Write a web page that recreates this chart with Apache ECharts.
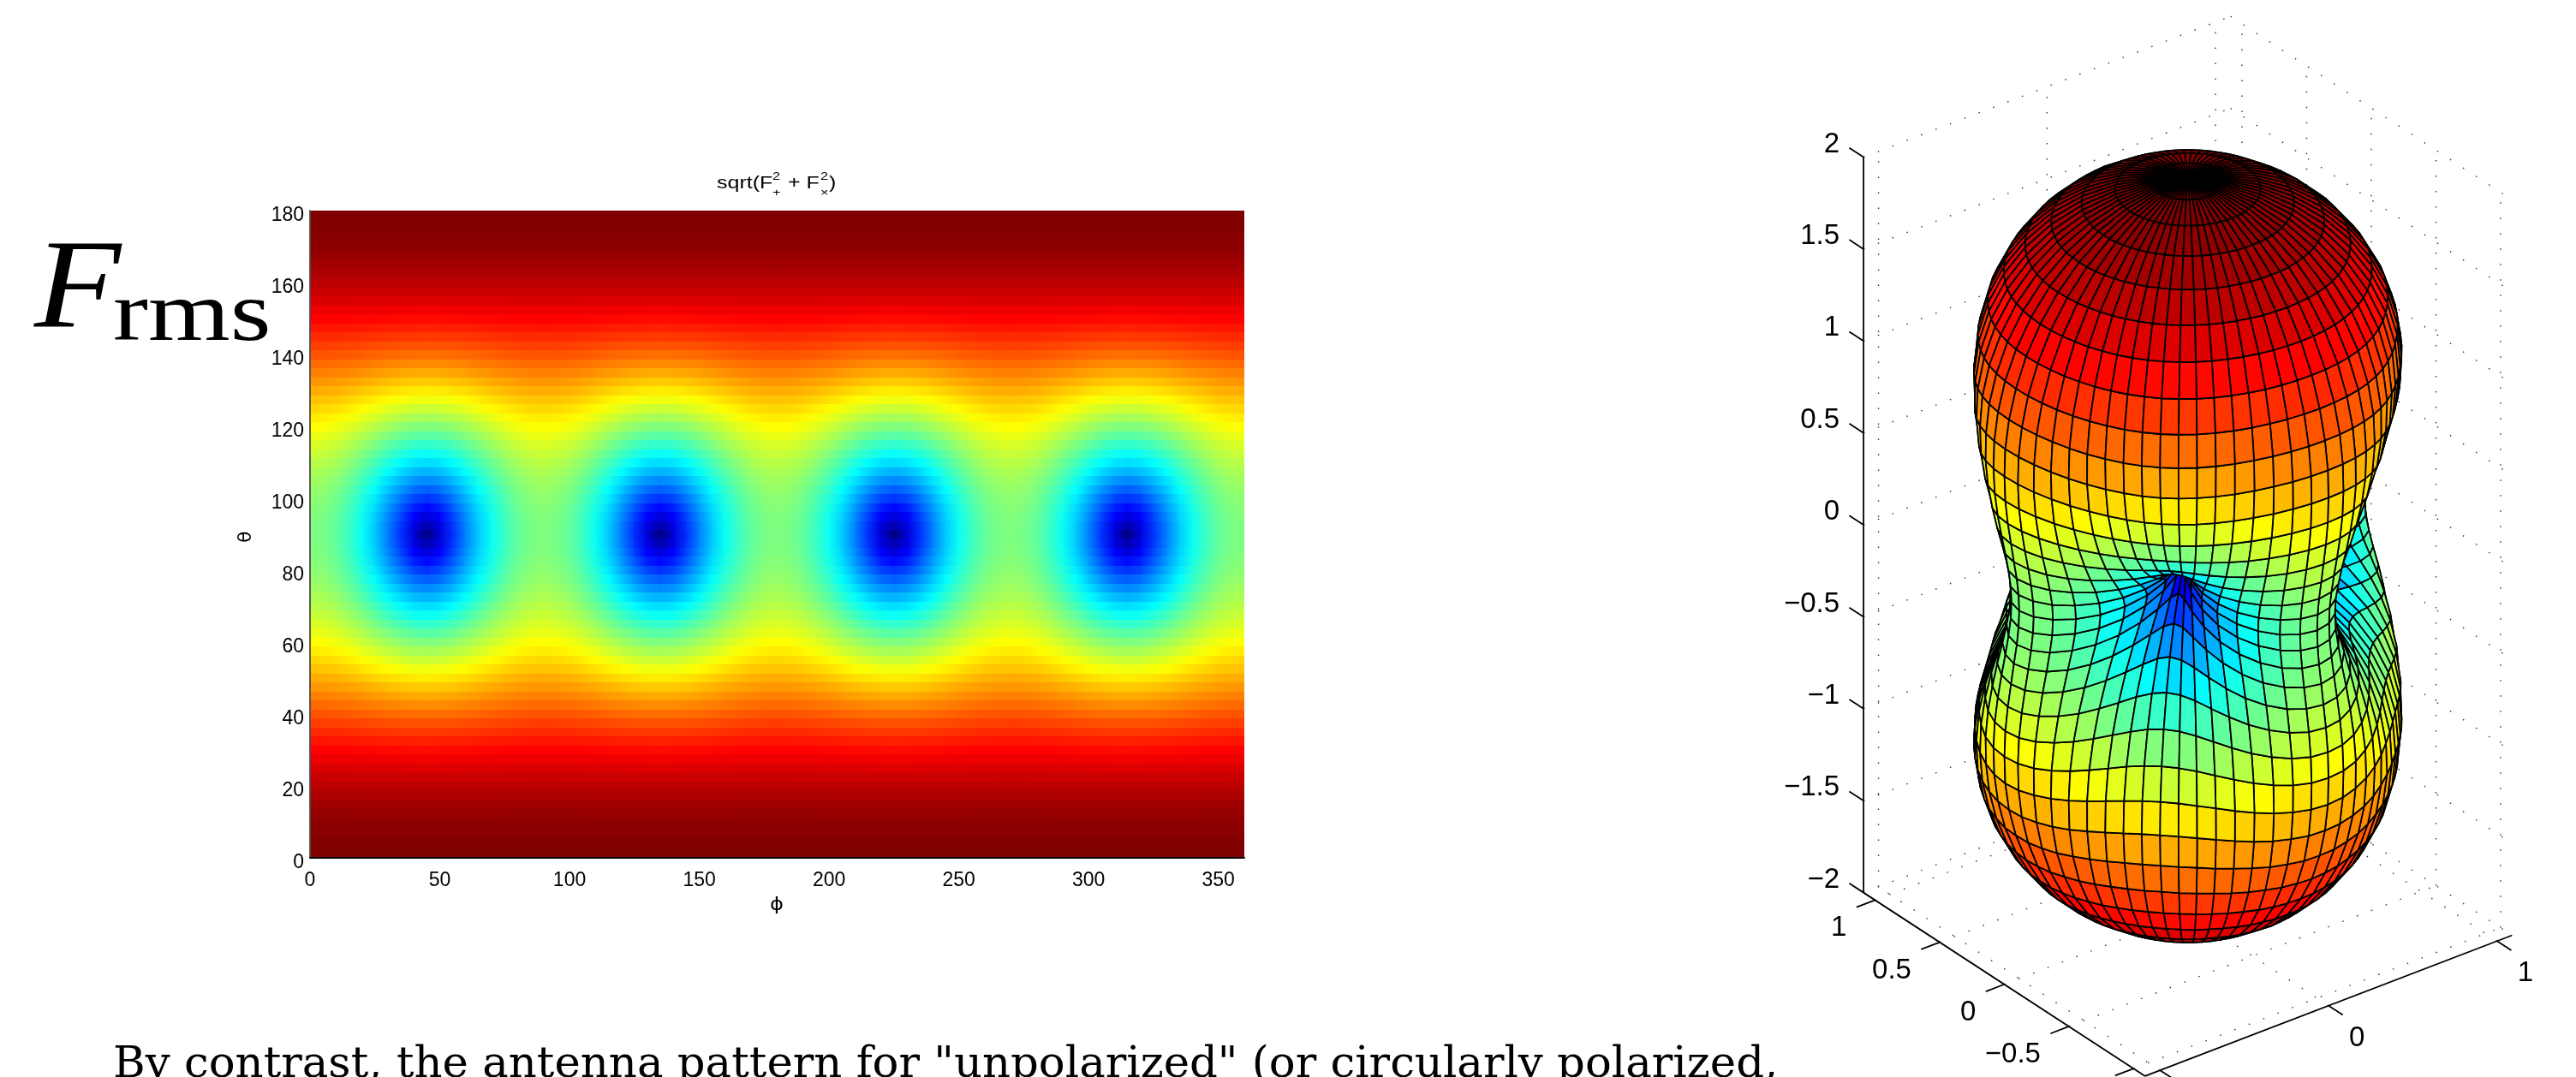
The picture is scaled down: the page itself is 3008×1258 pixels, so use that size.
<!DOCTYPE html>
<html>
<head>
<meta charset="utf-8">
<style>html,body{margin:0;padding:0;background:#fff;overflow:hidden}#chart{width:3008px;height:1258px}</style>
<script src="https://cdn.jsdelivr.net/npm/echarts@6/dist/echarts.min.js"></script>
</head>
<body>
<div id="chart"></div>
<script>
// Antenna-pattern values for one symmetric octant.
const thetaOctant = [0,2.5,5,7.5,10,12.5,15,17.5,20,22.5,25,27.5,30,32.5,35,37.5,40,42.5,45,47.5,50,52.5,55,57.5,60,62.5,65,67.5,70,72.5,75,77.5,80,82.5,85,87.5,90];
const phiOctant = [0,5,10,15,20,25,30,35,40,45];
const rmsOctant = [
[1,1,1,1,1,1,1,1,1,1],
[.999,.999,.999,.999,.999,.999,.999,.999,.999,.999],
[.996,.996,.996,.996,.996,.996,.996,.996,.996,.996],
[.991,.991,.991,.991,.991,.991,.991,.991,.991,.991],
[.985,.985,.985,.985,.985,.985,.985,.985,.985,.985],
[.977,.977,.977,.977,.976,.976,.976,.976,.976,.976],
[.967,.966,.966,.966,.966,.966,.966,.966,.966,.966],
[.955,.955,.955,.955,.954,.954,.954,.954,.954,.954],
[.942,.941,.941,.941,.941,.940,.940,.940,.940,.940],
[.927,.927,.926,.926,.926,.925,.925,.924,.924,.924],
[.911,.911,.910,.910,.909,.908,.907,.907,.906,.906],
[.893,.893,.893,.892,.891,.890,.889,.888,.887,.887],
[.875,.875,.874,.873,.871,.870,.868,.867,.866,.866],
[.856,.855,.854,.853,.851,.848,.846,.845,.844,.843],
[.836,.835,.834,.831,.829,.826,.823,.821,.820,.819],
[.815,.814,.812,.809,.806,.802,.799,.796,.794,.793],
[.793,.793,.790,.787,.782,.777,.773,.769,.767,.766],
[.772,.771,.768,.763,.758,.752,.746,.741,.738,.737],
[.750,.749,.745,.740,.733,.725,.718,.712,.708,.707],
[.728,.727,.722,.715,.707,.698,.689,.682,.677,.676],
[.707,.705,.699,.691,.681,.670,.659,.651,.645,.643],
[.685,.683,.677,.667,.655,.641,.629,.618,.611,.609],
[.664,.662,.655,.643,.629,.613,.598,.585,.577,.574],
[.644,.641,.633,.619,.602,.584,.566,.551,.541,.537],
[.625,.622,.612,.596,.577,.555,.534,.516,.504,.500],
[.607,.603,.592,.574,.551,.526,.502,.481,.467,.462],
[.589,.585,.572,.552,.527,.498,.470,.445,.429,.423],
[.573,.568,.554,.532,.503,.471,.438,.410,.390,.383],
[.558,.553,.538,.513,.481,.444,.407,.374,.351,.342],
[.545,.539,.523,.496,.460,.419,.377,.339,.311,.301],
[.534,.527,.509,.480,.441,.396,.348,.304,.271,.259],
[.523,.517,.497,.466,.424,.375,.322,.271,.232,.216],
[.515,.508,.488,.454,.410,.357,.298,.240,.193,.174],
[.509,.501,.480,.445,.398,.342,.278,.213,.156,.131],
[.504,.496,.474,.438,.390,.331,.263,.191,.123,.087],
[.501,.493,.471,.434,.385,.324,.253,.176,.097,.044],
[.500,.492,.470,.433,.383,.321,.250,.171,.087,.000]
];
const jetColors = ['#00007f','#0000ff','#007fff','#00ffff','#7fff7f','#ffff00','#ff7f00','#ff0000','#7f0000'];
const heatXTicks = [0,50,100,150,200,250,300,350];
const heatYTicks = [0,20,40,60,80,100,120,140,160,180];
const boxXTicks = [-1,0,1];
const boxYTicks = [1,0.5,0,-0.5,-1];
const boxZTicks = [2,1.5,1,0.5,0,-0.5,-1,-1.5,-2];
const boxYLabels = ['1','0.5','0','\u22120.5'];
const boxXLabels = ['0','1'];
const boxZLabels = ['2','1.5','1','0.5','0','\u22120.5','\u22121','\u22121.5','\u22122'];
const bodyText = 'By contrast, the antenna pattern for "unpolarized" (or circularly polarized,';

const SANS = '"Liberation Sans", Arial, sans-serif';
const D2R = Math.PI / 180;

// mirror a full-sphere direction onto the tabulated octant
function rms(theta, phi) {
  const t = theta <= 90 ? theta : 180 - theta;
  let p = phi % 90; if (p > 45) p = 90 - p;
  return rmsOctant[Math.round(t / 2.5)][Math.round(p / 5)];
}

// --- flat map cells: one row per theta, spanning phi .. phi+5
const mapCells = [];
for (let i = 0; i <= 72; i++) for (let j = 0; j < 72; j++) {
  mapCells.push([j * 5, i * 2.5, rms(i * 2.5, j * 5), rms(i * 2.5, (j + 1) * 5)]);
}

// --- 3D view (default az -37.5, el 30)
const AZ = -37.5 * D2R, EL = 30 * D2R, RADIUS = 2, XY = 1.089, ZL = 2, TICK = 0.11;
function project(x, y, z) {
  return [x * Math.cos(AZ) + y * Math.sin(AZ),
    -x * Math.sin(EL) * Math.sin(AZ) + y * Math.sin(EL) * Math.cos(AZ) + z * Math.cos(EL)];
}
function nearness(p) {
  return p[0] * Math.cos(EL) * Math.sin(AZ) - p[1] * Math.cos(EL) * Math.cos(AZ) + p[2] * Math.sin(EL);
}
function vertex(it, jp) {
  const th = it * 5 * D2R, ph = jp * 5 * D2R, r = RADIUS * rms(it * 5, (jp * 5) % 360);
  return [r * Math.sin(th) * Math.cos(ph), r * Math.sin(th) * Math.sin(ph), r * Math.cos(th)];
}
const quads = [];
for (let i = 0; i < 36; i++) for (let j = 0; j < 72; j++) {
  const c = [vertex(i, j), vertex(i + 1, j), vertex(i + 1, j + 1), vertex(i, j + 1)];
  const d = (nearness(c[0]) + nearness(c[1]) + nearness(c[2]) + nearness(c[3])) / 4;
  quads.push([i, j, rms(i * 5, j * 5), d]);
}
quads.sort((a, b) => a[3] - b[3]);

// --- box: dotted grid, axes and ticks
const frame = [];
function seg(a, b, solid) { frame.push([a[0], a[1], a[2], b[0], b[1], b[2], solid ? 1 : 0]); }
boxZTicks.forEach(z => {
  seg([-XY, XY, z], [XY, XY, z]); seg([XY, XY, z], [XY, -XY, z]);
});
boxXTicks.forEach(x => {
  seg([x, XY, -ZL], [x, XY, ZL]); seg([x, -XY, -ZL], [x, XY, -ZL]);
});
boxYTicks.forEach(y => {
  seg([XY, y, -ZL], [XY, y, ZL]); seg([-XY, y, -ZL], [XY, y, -ZL]);
});
seg([-XY, XY, -ZL], [-XY, XY, ZL], true);
seg([-XY, XY, -ZL], [-XY, -XY, -ZL], true);
seg([-XY, -XY, -ZL], [XY, -XY, -ZL], true);
boxZTicks.forEach(z => seg([-XY, XY, z], [-XY, XY + TICK, z], true));
boxYTicks.forEach(y => seg([-XY, y, -ZL], [-XY - TICK, y, -ZL], true));
boxXTicks.forEach(x => seg([x, -XY, -ZL], [x, -XY - TICK, -ZL], true));

const frameLabels = [];
boxZTicks.forEach((z, k) => frameLabels.push([-XY, XY, z, 0, k]));
boxYLabels.forEach((t, k) => frameLabels.push([-XY, boxYTicks[k], -ZL, 1, k]));
boxXLabels.forEach((t, k) => frameLabels.push([[0, 1][k], -XY, -ZL, 2, k]));

function heatItem(params, api) {
  const phi = api.value(0), th = api.value(1);
  const a = api.coord([phi, th + 1.25]), b = api.coord([phi + 5, th - 1.25]);
  const x = Math.floor(a[0]), y = Math.floor(a[1]);
  const shape = echarts.graphic.clipRectByRect(
    { x: x, y: y, width: Math.ceil(b[0]) - x, height: Math.ceil(b[1]) - y },
    { x: params.coordSys.x, y: params.coordSys.y, width: params.coordSys.width, height: params.coordSys.height });
  if (!shape) return null;
  return { type: 'rect', shape: shape, style: { fill: {
    type: 'linear', x: 0, y: 0, x2: 1, y2: 0, global: false,
    colorStops: [
      { offset: 0, color: echarts.color.lerp(api.value(2), jetColors) },
      { offset: 1, color: echarts.color.lerp(api.value(3), jetColors) }
    ] } } };
}
function quadItem(params, api) {
  const i = api.value(0), j = api.value(1);
  const pts = [vertex(i, j), vertex(i + 1, j), vertex(i + 1, j + 1), vertex(i, j + 1)]
    .map(v => api.coord(project(v[0], v[1], v[2])));
  return { type: 'polygon', shape: { points: pts },
    style: { fill: api.visual('color'), stroke: '#000', lineWidth: 1.8, lineJoin: 'round' } };
}
function frameItem(params, api) {
  const a = api.coord(project(api.value(0), api.value(1), api.value(2)));
  const b = api.coord(project(api.value(3), api.value(4), api.value(5)));
  const solid = api.value(6) === 1;
  return { type: 'line', shape: { x1: a[0], y1: a[1], x2: b[0], y2: b[1] },
    style: solid ? { stroke: '#000', lineWidth: 1.8 }
                 : { stroke: '#333', lineWidth: 1.4, lineDash: [1.5, 16.5] } };
}
function labelItem(params, api) {
  const a = api.coord(project(api.value(0), api.value(1), api.value(2)));
  const kind = api.value(3), k = api.value(4);
  let text, x, y, align;
  if (kind === 0) { text = boxZLabels[k]; x = a[0] - 28; y = a[1] - 15; align = 'right'; }
  else if (kind === 1) { text = boxYLabels[k]; x = a[0] - 33; y = a[1] + 33; align = 'right'; }
  else { text = boxXLabels[k]; x = a[0] + 33; y = a[1] + 38; align = 'center'; }
  return { type: 'text', x: x, y: y,
    style: { text: text, font: '33px ' + SANS, fill: '#000', textAlign: align, textVerticalAlign: 'middle' } };
}

const scale = 248, cx = 2554.7, cy = 638;
const axisHidden = { show: false, type: 'value', gridIndex: 1 };

function txt(text, x, y, font, extra) {
  return Object.assign({ type: 'text', x: x, y: y, z: 50,
    style: { text: text, font: font, fill: '#000', textAlign: 'left', textVerticalAlign: 'bottom' } }, extra || {});
}

const chart = echarts.init(document.getElementById('chart'), null, { renderer: 'canvas' });
chart.setOption({
  animation: false,
  backgroundColor: '#fff',
  grid: [
    { left: 362, top: 246, width: 1091, height: 755.5, outerBoundsMode: 'none' },
    { left: cx - 1.8 * scale, top: cy - 2.6 * scale, width: 3.6 * scale, height: 5.2 * scale, outerBoundsMode: 'none' }
  ],
  xAxis: [
    { type: 'value', gridIndex: 0, min: 0, max: 360, interval: 50, position: 'bottom', z: 5,
      axisLine: { lineStyle: { color: '#666', width: 1.5 } }, axisTick: { show: false }, splitLine: { show: false },
      axisLabel: { color: '#000', fontFamily: SANS, fontSize: 23, margin: 16, customValues: heatXTicks } },
    { type: 'value', gridIndex: 0, min: 0, max: 360, position: 'top', z: 5,
      axisLine: { lineStyle: { color: '#000', width: 2 } }, axisTick: { show: false }, axisLabel: { show: false }, splitLine: { show: false } },
    Object.assign({ min: -1.8, max: 1.8 }, axisHidden)
  ],
  yAxis: [
    { type: 'value', gridIndex: 0, min: 0, max: 180, interval: 20, position: 'left', z: 5,
      axisLine: { lineStyle: { color: '#444', width: 1.5 } }, axisTick: { show: false }, splitLine: { show: false },
      axisLabel: { customValues: heatYTicks, margin: 7, formatter: '{a|{value}}',
        rich: { a: { color: '#000', fontFamily: SANS, fontSize: 23, padding: [12, 0, 0, 0] } } } },
    { type: 'value', gridIndex: 0, min: 0, max: 180, position: 'right', z: 5,
      axisLine: { lineStyle: { color: '#555', width: 1.5 } }, axisTick: { show: false }, axisLabel: { show: false }, splitLine: { show: false } },
    Object.assign({ min: -2.6, max: 2.6 }, axisHidden)
  ],
  visualMap: { type: 'continuous', show: false, min: 0, max: 1, dimension: 2, seriesIndex: [1], inRange: { color: jetColors } },
  series: [
    { type: 'custom', name: 'map', xAxisIndex: 0, yAxisIndex: 0, data: mapCells, renderItem: heatItem, silent: true, z: 2, progressive: 0,
      encode: { x: 0, y: 1 } },
    { type: 'custom', name: 'surface', xAxisIndex: 2, yAxisIndex: 2, data: quads, renderItem: quadItem, silent: true, z: 3, progressive: 0, clip: false },
    { type: 'custom', name: 'box', xAxisIndex: 2, yAxisIndex: 2, data: frame, renderItem: frameItem, silent: true, z: 2, progressive: 0, clip: false },
    { type: 'custom', name: 'boxLabels', xAxisIndex: 2, yAxisIndex: 2, data: frameLabels, renderItem: labelItem, silent: true, z: 4, progressive: 0, clip: false }
  ],
  graphic: { elements: [
    txt('F', 40, 417, 'italic 148px "Liberation Serif", serif', { scaleX: 1.12 }),
    txt('rms', 132, 421, '100px "Liberation Serif", serif', { scaleX: 1.23 }),
    txt('sqrt(F', 837, 224, '20px ' + SANS, { scaleX: 1.25 }),
    txt('2', 902, 213, '13px ' + SANS, { scaleX: 1.25 }),
    txt('+', 902, 232, '13px ' + SANS, { scaleX: 1.25 }),
    txt('+ F', 920, 224, '20px ' + SANS, { scaleX: 1.25 }),
    txt('2', 958, 213, '13px ' + SANS, { scaleX: 1.25 }),
    txt('\u00d7', 958, 232, '13px ' + SANS, { scaleX: 1.25 }),
    txt(')', 968, 224, '20px ' + SANS, { scaleX: 1.25 }),
    txt('\u03d5', 899, 1068, '22px "DejaVu Sans", sans-serif', { scaleX: 1.1 }),
    txt('\u03b8', 298, 634, '22px "DejaVu Sans", sans-serif', { rotation: Math.PI / 2 }),
    txt(bodyText, 132, 1270, '51.3px "DejaVu Serif", serif')
  ] }
});
</script>
</body>
</html>
